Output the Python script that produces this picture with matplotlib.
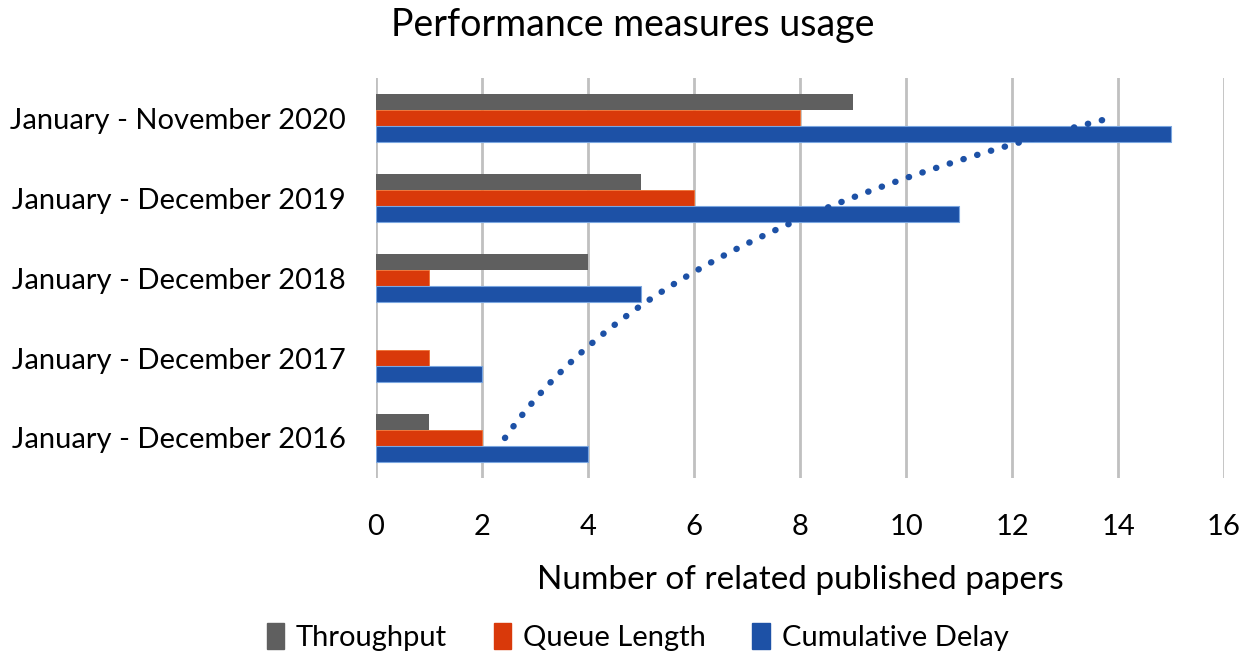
import numpy as np
import matplotlib

matplotlib.use("Agg")
import matplotlib.pyplot as plt
from matplotlib.patches import Patch

plt.rcParams["font.family"] = ["Lato", "DejaVu Sans"]

# categories bottom -> top, as drawn
periods = ["January - December 2016", "January - December 2017",
           "January - December 2018", "January - December 2019",
           "January - November 2020"]
throughput = [1, 0, 4, 5, 9]
queue_length = [2, 1, 1, 6, 8]
cumulative_delay = [4, 2, 5, 11, 15]
x_ticks = [0, 2, 4, 6, 8, 10, 12, 14, 16]

c_gray = "#5f5f5f"
c_red = "#d9390a"
c_blue = "#1d51a6"

fig = plt.figure(figsize=(12.5, 6.62), dpi=100)
ax = fig.add_axes([0.3008, 0.278, 0.6784, 0.604])

y = np.arange(len(periods))
h = 0.2
ax.barh(y + h, throughput, height=h, color=c_gray, lw=0)
ax.barh(y, queue_length, height=h, color=c_red, edgecolor="#f07030", lw=0.6)
ax.barh(y - h, cumulative_delay, height=h, color=c_blue, edgecolor="#7aa6e0", lw=0.8)

# exponential trendline of cumulative delay (fitted as in the spreadsheet)
xi = np.arange(1, len(periods) + 1)
b, a = np.polyfit(xi, np.log(cumulative_delay), 1)
tt = np.linspace(1, len(periods), 200)
ax.plot(np.exp(a + b * tt), tt - 1, color=c_blue, lw=4.6,
        ls=(0, (0.05, 2.2)), dash_capstyle="round", zorder=4)

ax.set_xlim(0, 16)
ax.set_ylim(-0.5, len(periods) - 0.5)
ax.set_xticks(x_ticks)
ax.set_xticklabels([str(v) for v in x_ticks], fontsize=21)
ax.set_yticks(y)
ax.set_yticklabels(periods, fontsize=21)
ax.tick_params(length=0)
ax.tick_params(axis="y", pad=22)
ax.tick_params(axis="x", pad=26)
ax.grid(axis="x", color="#c0c0c0", lw=2)
ax.set_axisbelow(True)
for s in ax.spines.values():
    s.set_visible(False)

ax.set_xlabel("Number of related published papers", fontsize=24, labelpad=18)
fig.text(0.506, 0.962, "Performance measures usage", fontsize=27,
         ha="center", va="center")

handles = [Patch(color=c_gray), Patch(color=c_red), Patch(color=c_blue)]
fig.legend(handles, ["Throughput", "Queue Length", "Cumulative Delay"],
           loc="center", bbox_to_anchor=(0.51, 0.038), ncol=3, frameon=False,
           fontsize=21, handlelength=0.6, handleheight=1.0, handletextpad=0.4,
           columnspacing=1.6)

fig.savefig("out.png", dpi=100)
